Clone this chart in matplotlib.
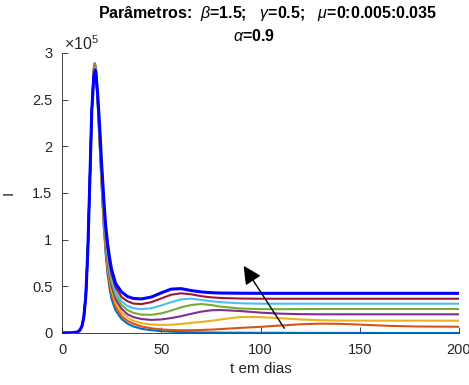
import numpy as np
import matplotlib
matplotlib.use("Agg")
import matplotlib.pyplot as plt

plt.rcParams['font.family'] = ['Liberation Sans', 'DejaVu Sans']
plt.rcParams['mathtext.fontset'] = 'custom'
plt.rcParams['mathtext.it'] = 'Liberation Sans:italic'
plt.rcParams['mathtext.rm'] = 'Liberation Sans'

# time samples (days) and I(t), in units of 1e5
t = [0, 5, 8, 9, 10, 11, 12, 13, 14, 15, 16, 16.5, 17, 18, 19, 20, 21, 22, 23, 24,
     25, 27, 30, 33, 36, 40, 45, 50, 55, 60, 65, 70, 75, 80, 90, 100, 110, 120, 130,
     140, 150, 165, 180, 200]

rise = [0, 0.002, 0.012, 0.03, 0.07, 0.17, 0.40, 0.88, 1.62, 2.38]

I_mu0000 = rise + [2.84, 2.89, 2.85, 2.45, 2.00, 1.55, 1.15, 0.85, 0.62, 0.47,
                   0.36, 0.24, 0.15, 0.10, 0.07, 0.045, 0.03, 0.02, 0.014, 0.01, 0.008, 0.006,
                   0.005, 0.004, 0.003, 0.002, 0.002, 0.001, 0.001, 0.001, 0.001, 0.0, 0.0, 0.0]
I_mu0005 = rise + [2.83, 2.885, 2.845, 2.46, 2.03, 1.59, 1.19, 0.89, 0.67, 0.52,
                   0.41, 0.28, 0.18, 0.13, 0.10, 0.07, 0.05, 0.038, 0.032, 0.03, 0.03, 0.032,
                   0.036, 0.042, 0.055, 0.066, 0.08, 0.093, 0.10, 0.098, 0.09, 0.076, 0.069, 0.067]
I_mu0010 = rise + [2.82, 2.875, 2.84, 2.48, 2.06, 1.62, 1.24, 0.94, 0.72, 0.57,
                   0.46, 0.32, 0.22, 0.165, 0.13, 0.105, 0.09, 0.086, 0.088, 0.097, 0.108, 0.118,
                   0.13, 0.145, 0.172, 0.17, 0.158, 0.145, 0.137, 0.133, 0.132, 0.132, 0.132, 0.132]
I_mu0015 = rise + [2.81, 2.865, 2.835, 2.49, 2.09, 1.66, 1.28, 0.98, 0.76, 0.61,
                   0.50, 0.36, 0.26, 0.20, 0.17, 0.15, 0.14, 0.145, 0.16, 0.18, 0.205, 0.228,
                   0.243, 0.246, 0.235, 0.218, 0.207, 0.202, 0.20, 0.20, 0.20, 0.20, 0.20, 0.20]
I_mu0020 = rise + [2.80, 2.855, 2.83, 2.50, 2.12, 1.70, 1.32, 1.02, 0.80, 0.65,
                   0.54, 0.40, 0.30, 0.245, 0.215, 0.197, 0.195, 0.21, 0.24, 0.275, 0.30, 0.31,
                   0.30, 0.282, 0.262, 0.256, 0.255, 0.256, 0.257, 0.257, 0.257, 0.257, 0.257, 0.257]
I_mu0025 = rise + [2.79, 2.845, 2.825, 2.52, 2.14, 1.73, 1.36, 1.06, 0.85, 0.69,
                   0.58, 0.44, 0.34, 0.29, 0.265, 0.255, 0.265, 0.295, 0.33, 0.36, 0.368, 0.355,
                   0.34, 0.33, 0.318, 0.314, 0.314, 0.314, 0.314, 0.314, 0.314, 0.314, 0.314, 0.314]
I_mu0030 = rise + [2.77, 2.83, 2.82, 2.53, 2.17, 1.76, 1.40, 1.10, 0.90, 0.74,
                   0.63, 0.49, 0.385, 0.34, 0.315, 0.31, 0.33, 0.37, 0.41, 0.425, 0.415, 0.395,
                   0.382, 0.375, 0.369, 0.367, 0.367, 0.367, 0.367, 0.367, 0.367, 0.367, 0.367, 0.367]
I_mu0035 = rise + [2.74, 2.80, 2.81, 2.55, 2.20, 1.80, 1.45, 1.15, 0.95, 0.80,
                   0.68, 0.53, 0.44, 0.39, 0.37, 0.365, 0.385, 0.43, 0.47, 0.475, 0.455, 0.44,
                   0.432, 0.428, 0.426, 0.425, 0.425, 0.425, 0.425, 0.425, 0.425, 0.425, 0.425, 0.425]

series = [I_mu0000, I_mu0005, I_mu0010, I_mu0015, I_mu0020, I_mu0025, I_mu0030, I_mu0035]
colors = ["#0072BD", "#D95319", "#EDB120", "#7E2F8E", "#77AC30", "#4DBEEE", "#A2142F", "#0000FF"]

xticks = [0, 50, 100, 150, 200]
yticks = [0, 0.5, 1, 1.5, 2, 2.5, 3]
ytick_labels = ["0", "0.5", "1", "1.5", "2", "2.5", "3"]

# arrow (data coords, units of 1e5)
arrow_tail = (112, 0.05)
arrow_head = (91.5, 0.72)

fig = plt.figure(figsize=(4.69, 3.85), dpi=100)
ax = fig.add_axes([0.1322, 0.1351, 0.8465, 0.7273])

for i, (ys, col) in enumerate(zip(series, colors)):
    ax.plot(t, ys, color=col, lw=2.2 if i == len(series) - 1 else 1.5)

ax.set_xlim(0, 200)
ax.set_ylim(0, 3)
ax.set_xticks(xticks)
ax.set_yticks(yticks)
ax.set_yticklabels(ytick_labels)
for s in ("top", "right"):
    ax.spines[s].set_visible(False)
for s in ("left", "bottom"):
    ax.spines[s].set_color("#262626")
    ax.spines[s].set_linewidth(0.6)
ax.tick_params(direction="in", length=4, width=0.6, color="#262626",
               labelsize=10.5, labelcolor="#262626", pad=7)

ax.set_xlabel("t em dias", fontsize=11, color="#262626", labelpad=4)
ax.set_ylabel("I", fontsize=11, color="#262626", labelpad=12)
ax.text(0.005, 1.0, r"$\times$10$^{5}$", transform=ax.transAxes, fontsize=11.5,
        color="#262626", ha="left", va="bottom")

fig.text(0.57, 0.966, "Parâmetros:  $\\beta$=1.5;   $\\gamma$=0.5;   $\\mu$=0:0.005:0.035",
         fontsize=11.5, fontweight="bold", ha="center", va="center")
fig.text(0.542, 0.906, "$\\alpha$=0.9", fontsize=11.5, fontweight="bold",
         ha="center", va="center")

ax.annotate("", xy=arrow_head, xytext=arrow_tail,
            arrowprops=dict(arrowstyle="-|>,head_length=1.1,head_width=0.55",
                            color="black", lw=1.0, shrinkA=0, shrinkB=0))

fig.savefig("out.png", dpi=100)
